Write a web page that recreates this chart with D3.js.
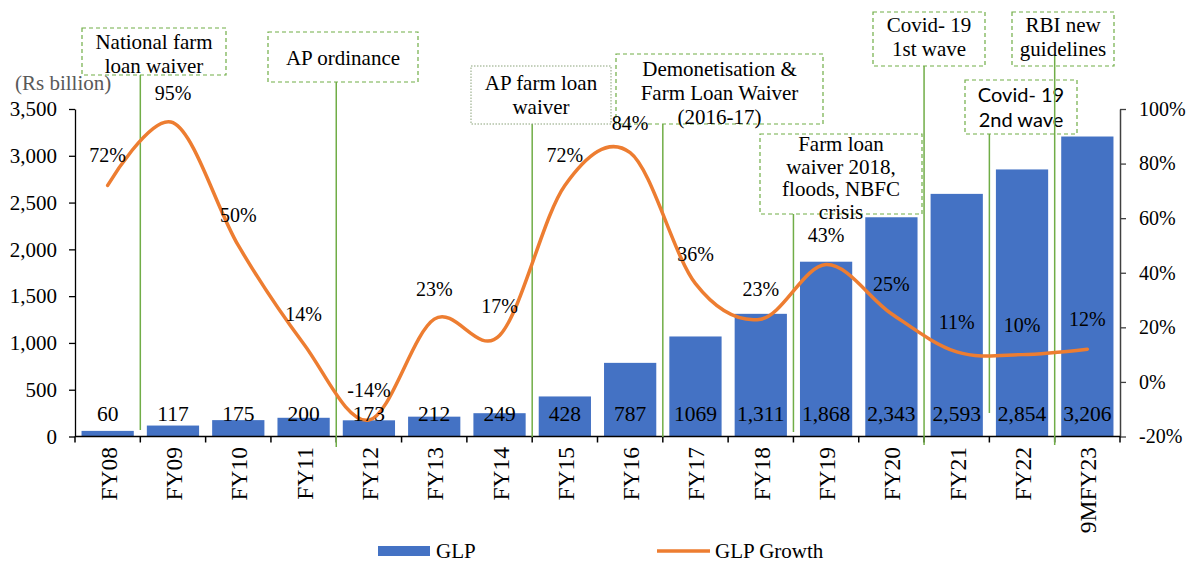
<!DOCTYPE html>
<html>
<head>
<meta charset="utf-8">
<script src="https://cdn.jsdelivr.net/npm/d3@7"></script>
<style>
  html, body { margin: 0; padding: 0; background: #fff; }
  svg { display: block; }
  text { font-family: "Liberation Serif", "Times New Roman", serif; fill: #000; }
</style>
</head>
<body>
<svg id="chart" width="1187" height="563"></svg>
<script>
// ---------------- data ----------------
const categories = ["FY08","FY09","FY10","FY11","FY12","FY13","FY14","FY15","FY16","FY17","FY18","FY19","FY20","FY21","FY22","9MFY23"];
const glp = [60,117,175,200,173,212,249,428,787,1069,1311,1868,2343,2593,2854,3206];
const glpLabels = ["60","117","175","200","173","212","249","428","787","1069","1,311","1,868","2,343","2,593","2,854","3,206"];
const glpGrowth = [72,95,50,14,-14,23,17,72,84,36,23,43,25,11,10,12];
const leftTicks = [0,500,1000,1500,2000,2500,3000,3500];
const rightTicks = [-20,0,20,40,60,80,100];
const seriesNames = ["GLP","GLP Growth"];

// annotations: text lines and the category boundary (index of category on the right of the line)
const annoText = [
  ["National farm","loan waiver"],
  ["AP ordinance"],
  ["AP farm loan","waiver"],
  ["Demonetisation &","Farm Loan Waiver","(2016-17)"],
  ["Farm loan","waiver 2018,","floods, NBFC","crisis"],
  ["Covid- 19","1st wave"],
  ["Covid- 19","2nd wave"],
  ["RBI new","guidelines"]
];
const annoBoundary = [1,4,7,9,11,13,14,15];

// layout for annotation boxes (positions only)
const annoLayout = [
  {x0:82,  x1:226,  y0:28,  y1:75,  ty:42,  gap:24, lineTop:75,  lineBot:430, style:"dash"},
  {x0:268, x1:418,  y0:32,  y1:82,  ty:58,  gap:24, lineTop:82,  lineBot:447, style:"dash"},
  {x0:471, x1:611,  y0:66,  y1:124, ty:83,  gap:24, lineTop:124, lineBot:437, style:"dash"},
  {x0:616, x1:823,  y0:54,  y1:124, ty:69,  gap:24, lineTop:124, lineBot:437, style:"dash"},
  {x0:760, x1:922,  y0:134, y1:214, ty:144, gap:22.5, lineTop:214, lineBot:432, style:"dash"},
  {x0:873, x1:985,  y0:12,  y1:66,  ty:25,  gap:24, lineTop:66,  lineBot:445, style:"dash"},
  {x0:965, x1:1077, y0:80,  y1:134, ty:94,  gap:25, lineTop:134, lineBot:413, style:"dash", sans:true},
  {x0:1012,x1:1114, y0:12,  y1:66,  ty:25,  gap:24, lineTop:55,  lineBot:445, style:"dash"}
];
annoLayout[2].style = "dot";

// ---------------- chart ----------------
const svg = d3.select("#chart");
const L = 75, R = 1120, T = 109, B = 436.5;

const x = d3.scaleBand().domain(categories).range([L, R]).paddingInner(0.2).paddingOuter(0.1);
const yL = d3.scaleLinear().domain([0, 3500]).range([B, T]);
const yR = d3.scaleLinear().domain([-20, 100]).range([B, T]);
const step = x.step();
const boundary = i => i >= categories.length ? R : x(categories[i]) - step * x.paddingOuter();

// bars
svg.append("g").selectAll("rect").data(glp).join("rect")
  .attr("x", (d,i) => x(categories[i]))
  .attr("y", d => yL(d))
  .attr("width", x.bandwidth())
  .attr("height", d => yL(0) - yL(d))
  .attr("fill", "#4472C4");

// left axis
const axL = svg.append("g").attr("transform", `translate(${L},0)`)
  .call(d3.axisLeft(yL).tickValues(leftTicks).tickFormat(d3.format(",")).tickSize(6).tickSizeOuter(0).tickPadding(12));
axL.select(".domain").attr("stroke", "#000").attr("stroke-width", 1.3);
axL.selectAll(".tick line").attr("stroke", "#000").attr("stroke-width", 1.3);
axL.selectAll("text").style("font-family", "Liberation Serif").style("font-size", "21px").attr("fill", "#000");

// right axis
const axR = svg.append("g").attr("transform", `translate(${R},0)`)
  .call(d3.axisRight(yR).tickValues(rightTicks).tickFormat(d => d + "%").tickSize(6).tickSizeOuter(0).tickPadding(13));
axR.select(".domain").attr("stroke", "#404040").attr("stroke-width", 1.5);
axR.selectAll(".tick line").attr("stroke", "#404040").attr("stroke-width", 1.3);
axR.selectAll("text").style("font-family", "Liberation Serif").style("font-size", "20px").attr("fill", "#000");

// x axis
const gx = svg.append("g");
gx.append("line").attr("x1", L).attr("x2", R).attr("y1", B).attr("y2", B).attr("stroke", "#000").attr("stroke-width", 1.5);
gx.selectAll("line.tk").data(d3.range(categories.length + 1)).join("line").attr("class","tk")
  .attr("x1", i => boundary(i)).attr("x2", i => boundary(i))
  .attr("y1", B).attr("y2", B + 6).attr("stroke", "#000").attr("stroke-width", 1.5);
gx.selectAll("text").data(categories).join("text")
  .attr("transform", d => `translate(${x(d) + x.bandwidth()/2 + 1},447) rotate(-90)`)
  .attr("text-anchor", "end").attr("dominant-baseline", "central")
  .style("font-size", "23.5px").text(d => d);

// annotation lines and boxes
const ga = svg.append("g");
annoText.forEach((lines, k) => {
  const lay = annoLayout[k];
  const bx = boundary(annoBoundary[k]);
  ga.append("line").attr("x1", bx).attr("x2", bx).attr("y1", lay.lineTop).attr("y2", lay.lineBot)
    .attr("stroke", "#70AD47").attr("stroke-width", 1.5);
  ga.append("rect").attr("x", lay.x0).attr("y", lay.y0).attr("width", lay.x1 - lay.x0).attr("height", lay.y1 - lay.y0)
    .attr("fill", "none")
    .attr("stroke", lay.style === "dot" ? "#8aa27a" : "#70AD47")
    .attr("stroke-width", lay.style === "dot" ? 1 : 1.2)
    .attr("stroke-dasharray", lay.style === "dot" ? "1.5,1.5" : "4,3");
  const cx = (lay.x0 + lay.x1) / 2;
  lines.forEach((t, j) => {
    ga.append("text").attr("x", cx).attr("y", lay.ty + j * lay.gap)
      .attr("text-anchor", "middle").attr("dominant-baseline", "central")
      .style("font-family", lay.sans ? "Lato, 'Liberation Sans', sans-serif" : "Liberation Serif")
      .style("font-size", lay.sans ? "20px" : "21px")
      .text(t);
  });
});

// growth line
const line = d3.line()
  .x((d,i) => x(categories[i]) + x.bandwidth()/2)
  .y(d => yR(d))
  .curve(d3.curveCardinal.tension(0));
svg.append("path").datum(glpGrowth).attr("d", line)
  .attr("fill", "none").attr("stroke", "#ED7D31").attr("stroke-width", 3.5).attr("stroke-linecap", "round");

// bar labels
svg.append("g").selectAll("text").data(glpLabels).join("text")
  .attr("x", (d,i) => x(categories[i]) + x.bandwidth()/2)
  .attr("y", yL(0) - 22.5)
  .attr("text-anchor", "middle").attr("dominant-baseline", "central")
  .style("font-size", "21.5px").text(d => d);

// growth labels
svg.append("g").selectAll("text").data(glpGrowth).join("text")
  .attr("x", (d,i) => x(categories[i]) + x.bandwidth()/2)
  .attr("y", d => yR(d) - 30)
  .attr("text-anchor", "middle").attr("dominant-baseline", "central")
  .style("font-size", "20px").text(d => d + "%");

// unit label
svg.append("text").attr("x", 15).attr("y", 83).attr("dominant-baseline", "central")
  .style("font-size", "21px").style("fill", "#595959").text("(Rs billion)");

// legend
const lg = svg.append("g");
lg.append("rect").attr("x", 378).attr("y", 546).attr("width", 52).attr("height", 10).attr("fill", "#4472C4");
lg.append("text").attr("x", 436).attr("y", 551).attr("dominant-baseline", "central").style("font-size", "21px").text(seriesNames[0]);
lg.append("line").attr("x1", 657).attr("x2", 710).attr("y1", 551).attr("y2", 551).attr("stroke", "#ED7D31").attr("stroke-width", 3.5);
lg.append("text").attr("x", 715).attr("y", 551).attr("dominant-baseline", "central").style("font-size", "21px").text(seriesNames[1]);
</script>
</body>
</html>
